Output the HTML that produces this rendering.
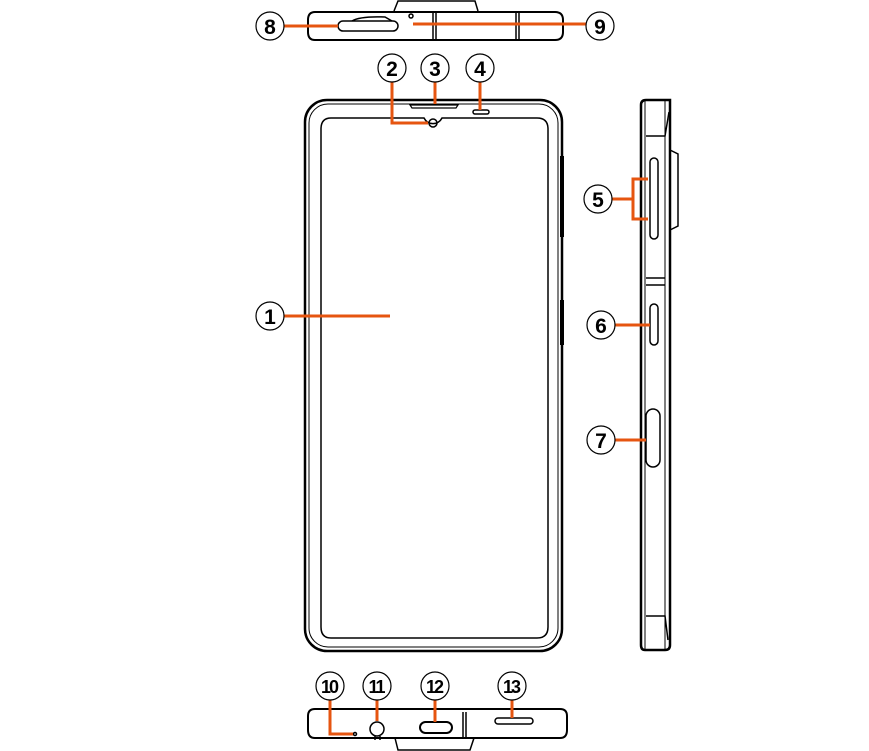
<!DOCTYPE html>
<html><head><style>body{margin:0;background:#fff}svg{display:block}</style></head><body>
<svg width="869" height="751" viewBox="0 0 869 751" xmlns="http://www.w3.org/2000/svg" font-family="Liberation Sans, sans-serif">
<g fill="none" stroke="#000" stroke-width="1.5">
<!-- top view -->
<path d="M394 11 L398 1 L475 1 L478 11"/>
<path d="M315 12 H555 Q563 12 563 20 V32 Q563 40 555 40 H315 Q308 40 308 32 V20 Q308 12 315 12Z" stroke-width="2"/>
<rect x="338" y="21" width="60" height="10" rx="5"/>
<path d="M352 21 Q360 16 385 17 L392 21"/>
<circle cx="411" cy="16" r="2"/>
<path d="M433 12V40M436 12V40M516 12V40M519 12V40"/>
<!-- front -->
<rect x="305" y="100" width="257" height="551" rx="22" stroke-width="2.5"/>
<rect x="309" y="104" width="249" height="543" rx="19" stroke-width="1"/>
<path d="M331 118 H424 A10 10 0 0 0 442 118 H537 Q548 118 548 129 V627 Q548 638 537 638 H331 Q321 638 321 627 V129 Q321 118 331 118Z"/>
<circle cx="433" cy="123" r="4"/>
<path d="M410 105 H458 L456 108 H412Z" stroke-width="1.2"/>
<rect x="473" y="110" width="16" height="4" rx="2"/>
<path d="M562 156 V237 M562 300 V345" stroke-width="4"/>
<!-- side -->
<path d="M641 105 Q641 100 646 100 H670 V645 Q670 650 665 650 H645 Q641 650 641 645Z" stroke-width="2.5"/>
<path d="M645 100 V650 M665 100 V650" stroke-width="1"/>
<path d="M646 136 H665 L669 112 M646 278 H665 M646 285 H665 M646 616 H665 L668 640"/>
<path d="M670 150 L678 154 V226 L670 230"/>
<rect x="650" y="158" width="8" height="81" rx="4"/>
<rect x="650" y="304" width="8" height="41" rx="4"/>
<rect x="646" y="409" width="14" height="58" rx="7"/>
<!-- bottom -->
<path d="M315 709 H560 Q567 709 567 716 V730 Q567 738 560 738 H315 Q308 738 308 730 V716 Q308 709 315 709Z" stroke-width="2"/>
<path d="M395 738 L398 750 H470 L474 738"/>
<circle cx="377" cy="729" r="7"/>
<path d="M375 736 V740 M380 736 V740"/>
<rect x="420" y="722" width="32" height="11" rx="5.5" stroke-width="2"/>
<rect x="495" y="718" width="38" height="6" rx="3"/>
<path d="M463 712 V738 M466 712 V738"/>
<circle cx="355" cy="734" r="1.5"/>
</g>
<g stroke="#e65510" stroke-width="3" fill="none">
<path d="M284 26 H338"/>
<path d="M413 24 H586"/>
<path d="M392 82 V123 H428"/>
<path d="M435 82 V104"/>
<path d="M480 82 V110"/>
<path d="M284 316 H390"/>
<path d="M612 199 H633 M648 179 H633 V219 H648"/>
<path d="M615 325 H650"/>
<path d="M615 440 H646"/>
<path d="M330 700 V734 H353"/>
<path d="M377 700 V721"/>
<path d="M435 700 V722"/>
<path d="M512 700 V718"/>
</g>
<g fill="#fff" stroke="#000" stroke-width="1.2">
<circle cx="270" cy="26" r="14"/><circle cx="600" cy="26" r="14"/>
<circle cx="392" cy="68" r="14"/><circle cx="435" cy="68" r="14"/><circle cx="480" cy="68" r="14"/>
<circle cx="270" cy="316" r="14"/><circle cx="598" cy="199" r="14"/>
<circle cx="601" cy="325" r="14"/><circle cx="601" cy="440" r="14"/>
<circle cx="330" cy="686" r="14"/><circle cx="377" cy="686" r="14"/><circle cx="435" cy="686" r="14"/><circle cx="512" cy="686" r="14"/>
</g>
<g font-weight="bold" font-size="21" text-anchor="middle" fill="#000">
<text x="270" y="34">8</text><text x="600" y="34">9</text>
<text x="392" y="76">2</text><text x="435" y="76">3</text><text x="480" y="76">4</text>
<text x="270" y="324">1</text><text x="598" y="207">5</text>
<text x="601" y="333">6</text><text x="601" y="448">7</text>
<g font-size="18" letter-spacing="-2"><text x="329" y="693">10</text><text x="376" y="693">11</text><text x="434" y="693">12</text><text x="511" y="693">13</text></g>
</g>
</svg>
</body></html>
